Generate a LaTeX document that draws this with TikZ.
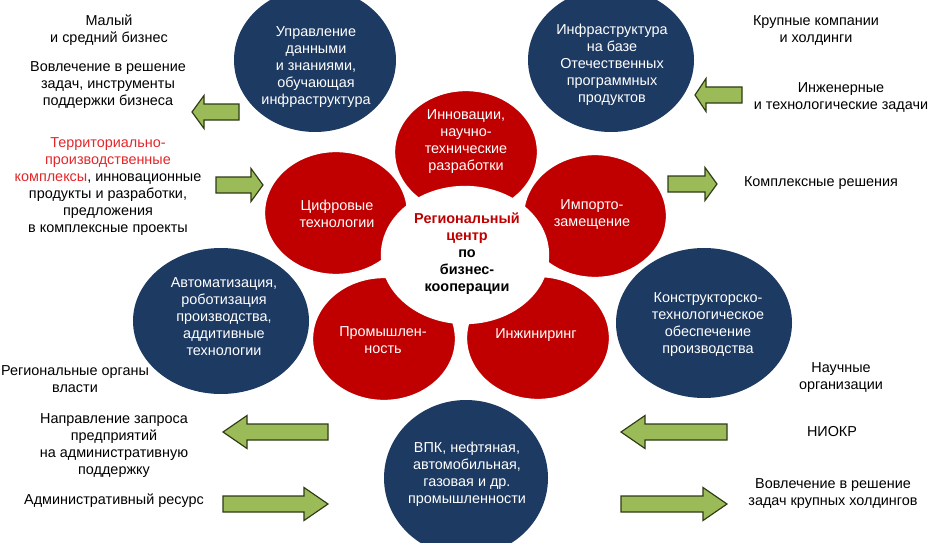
\documentclass[tikz,border=0pt]{standalone}
\usepackage{fontspec}
\setmainfont{Liberation Sans}
\usepackage{tikz}
\definecolor{rcnavy}{HTML}{1D3A63}
\definecolor{rcred}{HTML}{C00000}
\definecolor{rclabel}{HTML}{E3262A}
\definecolor{rcgreen}{HTML}{9BBB59}
\definecolor{rcedge}{HTML}{2E3B14}
% tail x, head base x, tip x, y
\newcommand{\greenarrow}[4]{\draw[garrow] (#1,#4-8) -- (#2,#4-8) -- (#2,#4-16.5) -- (#3,#4) -- (#2,#4+16.5) -- (#2,#4+8) -- (#1,#4+8) -- cycle;}

\begin{document}
\begin{tikzpicture}[x=0.3mm, y=-0.3mm, every node/.style={font=\fontsize{12.3}{14.5}\selectfont, align=center, inner sep=0pt}, blueball/.style={fill=rcnavy}, petal/.style={fill=rcred, draw=white, line width=0.7mm}, hub/.style={fill=white, draw=white, line width=0.7mm}, intext/.style={text=white}, garrow/.style={fill=rcgreen, draw=rcedge, line width=0.35mm}]
\useasboundingbox (0,0) rectangle (929,543);
\clip (0,0) rectangle (929,543);
% outer circles
\fill[blueball] (315,60) ellipse [x radius=81, y radius=72];
\fill[blueball] (611,60) ellipse [x radius=83, y radius=72];
\fill[blueball] (221,321) ellipse [x radius=88, y radius=73];
\fill[blueball] (704,323) ellipse [x radius=88, y radius=75];
\fill[blueball] (466,478) ellipse [x radius=82, y radius=78];
% petals and hub
\filldraw[petal] (466,152) ellipse [x radius=72, y radius=62];
\filldraw[petal] (336,213) ellipse [x radius=72, y radius=62];
\filldraw[petal] (595,216) ellipse [x radius=72, y radius=62];
\filldraw[petal] (384,339) ellipse [x radius=72, y radius=62];
\filldraw[petal] (538,338) ellipse [x radius=72, y radius=62];
\filldraw[hub] (465,255) ellipse [x radius=83, y radius=68];
% texts in circles
\node[intext] (data) at (316,67) {Управление\\данными\\и знаниями,\\обучающая\\инфраструктура};
\node[intext] (infra) at (612,65) {Инфраструктура\\на базе\\Отечественных\\программных\\продуктов};
\node[intext] (innov) at (466,142) {Инновации,\\научно-\\технические\\разработки};
\node[intext] (digital) at (337,214) {Цифровые\\технологии};
\node[intext] (import) at (592,214) {Импорто-\\замещение};
\node[intext] (industry) at (383,340) {Промышлен-\\ность};
\node[intext] (engin) at (536,335) {Инжиниринг};
\node[intext] (autom) at (224,317) {Автоматизация,\\роботизация\\производства,\\аддитивные\\технологии};
\node[intext] (design) at (708,325) {Конструкторско-\\технологическое\\обеспечение\\производства};
\node[intext] (sectors) at (467,474) {ВПК, нефтяная,\\автомобильная,\\газовая и др.\\промышленности};
\node[font=\fontsize{12.3}{14.5}\selectfont\bfseries] (hubtext) at (467,254) {{\color{rcred}Региональный}\\{\color{rcred}центр}\\по\\бизнес-\\кооперации};
% side texts
\node (sme) at (109,30) {Малый\\и средний бизнес};
\node (smetask) at (108,85) {Вовлечение в решение\\задач, инструменты\\поддержки бизнесa};
\node (terr) at (108,187) {{\color{rclabel}Территориально-}\\{\color{rclabel}производственные}\\{\color{rclabel}комплексы}, инновационные\\продукты и разработки,\\предложения\\в комплексные проекты};
\node (large) at (816,30) {Крупные компании\\и холдинги};
\node (engtask) at (841,97) {Инженерные\\и технологические задачи};
\node (complex) at (821,183) {Комплексные решения};
\node (gov) at (75,379) {Региональные органы\\власти};
\node (request) at (114,446) {Направление запроса\\предприятий\\на административную\\поддержку};
\node (admin) at (114,501) {Административный ресурс};
\node (science) at (841,378) {Научные\\организации};
\node (rnd) at (832,432) {НИОКР};
\node (holdtask) at (833,494) {Вовлечение в решение\\задач крупных холдингов};
% block arrows
\greenarrow{239}{204}{192}{112}
\greenarrow{216}{251}{263}{185}
\greenarrow{742}{706}{695}{95}
\greenarrow{668}{705}{717}{184}
\greenarrow{328}{247}{223}{432}
\greenarrow{223}{304}{328}{504}
\greenarrow{727}{645}{621}{432}
\greenarrow{621}{703}{727}{504}
\end{tikzpicture}
\end{document}
